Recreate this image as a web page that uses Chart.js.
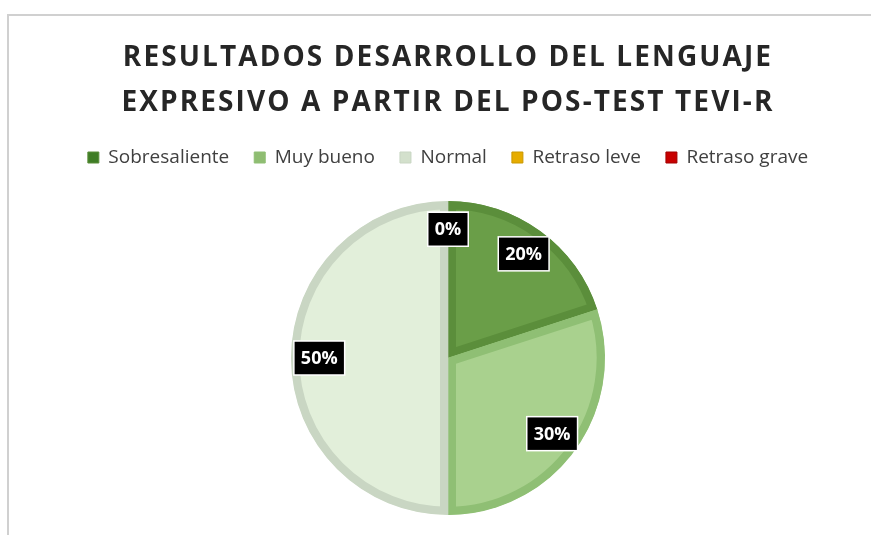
<!DOCTYPE html>
<html lang="es">
  <head>
    <meta charset="UTF-8" />
    <title>Resultados TEVI-R</title>
    <script src="https://cdn.jsdelivr.net/npm/chart.js@4"></script>
    <style>
      body { margin: 0; background: #fff; }
      .frame {
        position: absolute; left: 7px; top: 14px; width: 880px; height: 540px;
        border-left: 2px solid #d0d0d0; border-top: 2px solid #d0d0d0;
      }
      .wrap { position: absolute; left: 0; top: 0; width: 871px; height: 535px; }
    </style>
  </head>
  <body>
    <div class="frame"></div>
    <div class="wrap"><canvas id="pieChart"></canvas></div>

    <script>
      const titleLines = ['RESULTADOS DESARROLLO DEL LENGUAJE', 'EXPRESIVO A PARTIR DEL POS-TEST TEVI-R'];
      const categories = ['Sobresaliente', 'Muy bueno', 'Normal', 'Retraso leve', 'Retraso grave'];
      const percents = [20, 30, 50, 0, 0];
      const fillColors = ['#6a9e48', '#a9d18e', '#e2efda', '#e8b000', '#c00000'];
      const edgeColors = ['#5b8e3b', '#8fbf74', '#c9d6c3', '#c99800', '#a00000'];
      const legendColors = ['#3f7d25', '#8fbd72', '#d3e0cc', '#e6ac00', '#c80000'];

      // espaciado de letras en el titulo y hueco extra bajo la leyenda
      const layoutTweaks = {
        id: 'layoutTweaks',
        beforeUpdate(chart) {
          const lg = chart.legend;
          if (lg && !lg._tweaked) {
            const fit = lg.fit;
            lg.fit = function () { fit.call(this); this.height += 24; };
            lg._tweaked = true;
          }
        },
        beforeDraw(chart) {
          const t = chart.titleBlock;
          if (t && !t._tweaked) {
            const draw = t.draw;
            t.draw = function () {
              const ctx = this.ctx;
              ctx.save();
              ctx.letterSpacing = '2.1px';
              draw.call(this);
              ctx.restore();
            };
            t._tweaked = true;
          }
        }
      };

      // cajas negras con el porcentaje dentro de cada sector
      const pctLabels = {
        id: 'pctLabels',
        afterDatasetsDraw(chart) {
          const ctx = chart.ctx;
          const meta = chart.getDatasetMeta(0);
          ctx.save();
          ctx.font = 'bold 18px "Open Sans"';
          ctx.textAlign = 'center';
          ctx.textBaseline = 'middle';
          meta.data.forEach((arc, i) => {
            const mid = (arc.startAngle + arc.endAngle) / 2;
            const r = arc.outerRadius * 0.82;
            const x = arc.x + Math.cos(mid) * r;
            const y = arc.y + Math.sin(mid) * r;
            const txt = percents[i] + '%';
            const w = ctx.measureText(txt).width + 14;
            const h = 34;
            ctx.fillStyle = '#000';
            ctx.strokeStyle = '#fff';
            ctx.lineWidth = 1.5;
            ctx.fillRect(x - w / 2, y - h / 2, w, h);
            ctx.strokeRect(x - w / 2, y - h / 2, w, h);
            ctx.fillStyle = '#fff';
            ctx.fillText(txt, x, y + 1);
          });
          ctx.restore();
        }
      };

      new Chart(document.getElementById('pieChart'), {
        type: 'pie',
        data: {
          labels: categories,
          datasets: [{
            data: percents,
            backgroundColor: fillColors,
            borderColor: edgeColors,
            borderWidth: 8,
            borderAlign: 'inner'
          }]
        },
        options: {
          responsive: true,
          maintainAspectRatio: false,
          animation: false,
          layout: { padding: { left: 25, right: 0, top: 0, bottom: 20 } },
          plugins: {
            title: {
              display: true,
              text: titleLines,
              color: '#262626',
              font: { family: '"Open Sans"', size: 28, weight: 'bold', lineHeight: 45 / 28 },
              padding: { top: 36, bottom: -3 }
            },
            legend: {
              position: 'top',
              labels: {
                color: '#404040',
                font: { family: '"Open Sans"', size: 19 },
                boxWidth: 11,
                boxHeight: 11,
                padding: 25,
                generateLabels(chart) {
                  return categories.map((c, i) => ({
                    text: c,
                    fillStyle: legendColors[i],
                    strokeStyle: edgeColors[i],
                    lineWidth: 1,
                    fontColor: '#404040',
                    hidden: false,
                    index: i
                  }));
                }
              },
              onClick: null
            },
            tooltip: { enabled: false }
          }
        },
        plugins: [layoutTweaks, pctLabels]
      });
    </script>
  </body>
</html>
